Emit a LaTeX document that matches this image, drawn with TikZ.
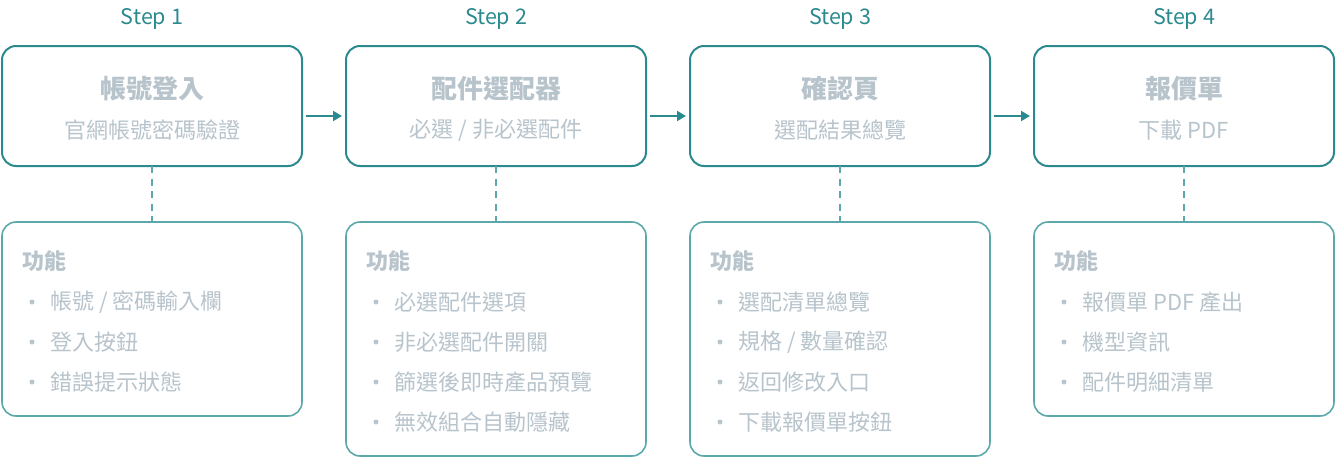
\documentclass[tikz,border=0pt]{standalone}
\usepackage{fontspec}
\setmainfont{Noto Sans CJK TC}
\usetikzlibrary{arrows.meta}
\definecolor{teal1}{HTML}{2B8A8E}
\definecolor{teal2}{HTML}{5CA8AB}
\definecolor{txt}{HTML}{B8C4CC}
\tikzset{
  stepbox/.style={draw=teal1, line width=2pt, rounded corners=14pt, fill=white},
  featbox/.style={draw=teal2, line width=1.6pt, rounded corners=14pt, fill=white},
  steplbl/.style={text=teal1, font=\fontsize{21.5}{24}\selectfont, anchor=center},
  ttl/.style={text=txt, font=\fontsize{26}{30}\selectfont\bfseries, anchor=center},
  sub/.style={text=txt, font=\fontsize{22}{26}\selectfont, anchor=center},
  fhead/.style={text=txt, font=\fontsize{22}{26}\selectfont\bfseries, anchor=west, inner sep=0pt},
  fitem/.style={text=txt, font=\fontsize{22}{26}\selectfont, anchor=west, inner sep=0pt},
  bul/.style={circle, fill=txt, inner sep=0pt, minimum size=5pt},
  flow/.style={draw=teal1, line width=2pt, -{Triangle[length=9pt,width=10pt]}},
  dash link/.style={draw=teal2, line width=2pt, dash pattern=on 7pt off 5.5pt},
}
\begin{document}
\begin{tikzpicture}[x=1pt,y=-1pt]
\useasboundingbox (0,0) rectangle (1336,458);
% top boxes
\foreach \i/\cx in {1/152,2/496,3/840,4/1184}{
  \node[steplbl] (s\i) at (\cx,19) {Step \i};
  \draw[stepbox] (\cx-150,46) rectangle (\cx+150,166);
  \coordinate (tb\i) at (\cx,166);
  \coordinate (tl\i) at (\cx-150,116);
  \coordinate (tr\i) at (\cx+150,116);
}
\node[ttl] (t1) at (152,89) {帳號登入};
\node[sub] (u1) at (152,130) {官網帳號密碼驗證};
\node[ttl] (t2) at (496,89) {配件選配器};
\node[sub] (u2) at (496,130) {必選 / 非必選配件};
\node[ttl] (t3) at (840,89) {確認頁};
\node[sub] (u3) at (840,130) {選配結果總覽};
\node[ttl] (t4) at (1184,89) {報價單};
\node[sub] (u4) at (1184,130) {下載 PDF};
% arrows
\foreach \a/\b in {1/2,2/3,3/4}{
  \draw[flow] ([xshift=4pt]tr\a) -- ([xshift=-4pt]tl\b);
}
% bottom boxes
\draw[featbox] (2,222) rectangle (302,416);
\draw[featbox] (346,222) rectangle (646,456);
\draw[featbox] (690,222) rectangle (990,456);
\draw[featbox] (1034,222) rectangle (1334,416);
\foreach \i/\cx in {1/152,2/496,3/840,4/1184}{
  \coordinate (bt\i) at (\cx,222);
  \draw[dash link] (tb\i) -- (bt\i);
  \node[fhead] (h\i) at (\cx-130,261) {功能};
}
\newcommand{\fitems}[2]{%
  \foreach \txt [count=\k] in {#2}{
    \node[bul] (b#1\k) at (#1-120,302+40*\k-40) {};
    \node[fitem] (f#1\k) at (#1-102,302+40*\k-40) {\txt};
  }}
\fitems{152}{帳號 / 密碼輸入欄,登入按鈕,錯誤提示狀態}
\fitems{496}{必選配件選項,非必選配件開關,篩選後即時產品預覽,無效組合自動隱藏}
\fitems{840}{選配清單總覽,規格 / 數量確認,返回修改入口,下載報價單按鈕}
\fitems{1184}{報價單 PDF 產出,機型資訊,配件明細清單}
\end{tikzpicture}
\end{document}
